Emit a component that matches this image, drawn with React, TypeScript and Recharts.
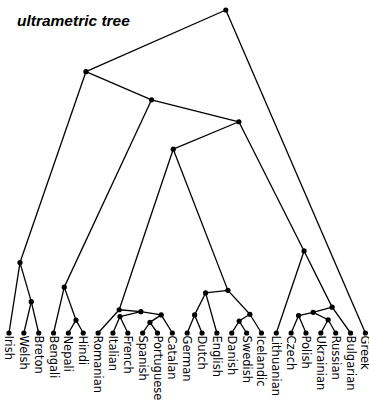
import React from 'react';
import { ScatterChart, Scatter, XAxis, YAxis, ReferenceLine } from 'recharts';

// leaves, left to right (x = index, height 0)
const leaves = [
  'Irish', 'Welsh', 'Breton', 'Bengali', 'Nepali', 'Hindi', 'Romanian', 'Italian',
  'French', 'Spanish', 'Portuguese', 'Catalan', 'German', 'Dutch', 'English', 'Danish',
  'Swedish', 'Icelandic', 'Lithuanian', 'Czech', 'Polish', 'Ukrainian', 'Russian',
  'Bulgarian', 'Greek',
];

// internal nodes: id, x (leaf-index units), height (root = 100)
const nodeIds = [
  'root', 'ie', 'core', 'cs', 'gr', 'bs', 'celtic', 'brit', 'indo', 'nh',
  'rom', 'wrom', 'itfr', 'ibero', 'sppt', 'germ', 'wgerm', 'gedu', 'ngerm', 'dasw',
  'slav', 'wes', 'wslav', 'eslav',
];
const nodeX = [
  14.6, 5.18, 9.6, 15.48, 11.06, 19.87, 0.74, 1.5, 3.72, 4.51,
  7.42, 8.88, 7.47, 10.25, 9.49, 14.74, 13.24, 12.5, 16.22, 15.5,
  21.76, 20.48, 19.5, 21.49,
];
const nodeHeight = [
  100, 80.9, 72.2, 65.4, 56.9, 25.4, 21.8, 9.7, 14.2, 4.0,
  7.2, 6.6, 5.1, 5.6, 3.3, 13.2, 12.4, 5.6, 5.8, 3.7,
  8.0, 6.4, 5.4, 4.1,
];

// parent -> child edges
const edges: [string, string][] = [
  ['root', 'ie'], ['root', 'Greek'],
  ['ie', 'celtic'], ['ie', 'core'],
  ['celtic', 'Irish'], ['celtic', 'brit'], ['brit', 'Welsh'], ['brit', 'Breton'],
  ['core', 'indo'], ['core', 'cs'],
  ['indo', 'Bengali'], ['indo', 'nh'], ['nh', 'Nepali'], ['nh', 'Hindi'],
  ['cs', 'gr'], ['cs', 'bs'],
  ['gr', 'rom'], ['gr', 'germ'],
  ['rom', 'Romanian'], ['rom', 'wrom'], ['wrom', 'itfr'], ['wrom', 'ibero'],
  ['itfr', 'Italian'], ['itfr', 'French'], ['ibero', 'sppt'], ['ibero', 'Catalan'],
  ['sppt', 'Spanish'], ['sppt', 'Portuguese'],
  ['germ', 'wgerm'], ['germ', 'ngerm'], ['wgerm', 'gedu'], ['wgerm', 'English'],
  ['gedu', 'German'], ['gedu', 'Dutch'], ['ngerm', 'dasw'], ['ngerm', 'Icelandic'],
  ['dasw', 'Danish'], ['dasw', 'Swedish'],
  ['bs', 'Lithuanian'], ['bs', 'slav'], ['slav', 'wes'], ['slav', 'Bulgarian'],
  ['wes', 'wslav'], ['wes', 'eslav'], ['wslav', 'Czech'], ['wslav', 'Polish'],
  ['eslav', 'Ukrainian'], ['eslav', 'Russian'],
];

const leafData = leaves.map((name, i) => ({ name, x: i, y: 0 }));
const innerData = nodeIds.map((name, i) => ({ name, x: nodeX[i], y: nodeHeight[i] }));
const pos: Record<string, { x: number; y: number }> = {};
[...leafData, ...innerData].forEach(d => { pos[d.name] = { x: d.x, y: d.y }; });

const Dot = (props: any) => {
  const { cx, cy } = props;
  return <circle cx={cx} cy={cy} r={2.6} fill="#000" />;
};

const LeafDot = (props: any) => {
  const { cx, cy, payload } = props;
  return (
    <g>
      <circle cx={cx} cy={cy} r={2.6} fill="#000" />
      <text
        x={cx}
        y={cy + 2.5}
        transform={`rotate(90, ${cx}, ${cy + 2.5})`}
        dominantBaseline="central"
        fontFamily="DejaVu Sans"
        fontSize={11.5}
        fill="#000"
      >
        {payload.name}
      </text>
    </g>
  );
};

const App = () => {
  return (
    <div style={{ position: 'absolute', left: 0, top: 0, width: 369, height: 402, background: '#fff' }}>
      <ScatterChart width={369} height={402} margin={{ top: 10, right: 3.6, bottom: 69, left: 9 }}>
        <XAxis type="number" dataKey="x" domain={[0, 24]} hide />
        <YAxis type="number" dataKey="y" domain={[0, 100]} hide />
        {edges.map(([a, b], i) => (
          <ReferenceLine
            key={i}
            segment={[pos[a], pos[b]]}
            stroke="#000"
            strokeWidth={1.3}
            ifOverflow="visible"
          />
        ))}
        <Scatter data={innerData} shape={<Dot />} isAnimationActive={false} />
        <Scatter data={leafData} shape={<LeafDot />} isAnimationActive={false} />
      </ScatterChart>
      <div
        style={{
          position: 'absolute',
          left: 17,
          top: 12,
          fontFamily: '"Liberation Sans", Arial, sans-serif',
          fontWeight: 'bold',
          fontStyle: 'italic',
          fontSize: 15.5,
          lineHeight: '18px',
        }}
      >
        ultrametric tree
      </div>
    </div>
  );
};

export default App;
